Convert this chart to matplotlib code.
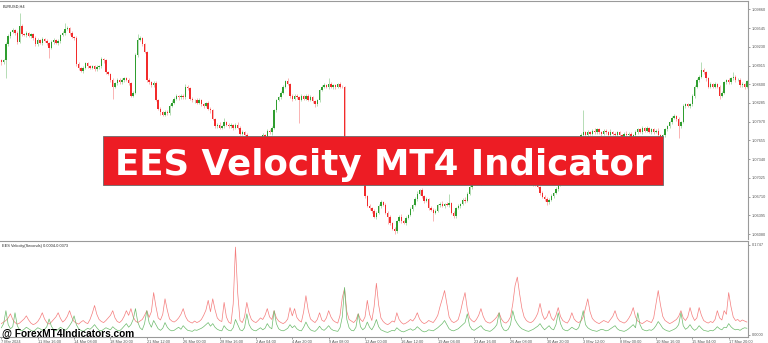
import numpy as np
import matplotlib.pyplot as plt
from matplotlib.patches import Rectangle

# ---- data (EURUSD H4, 7 Mar - 20 May 2024) ----
first_open = 1.0900
closes = [
    1.0897, 1.0900, 1.0927, 1.0941, 1.0948, 1.0951, 1.0946, 1.0931, 1.0958, 1.0944,
    1.0943, 1.0946, 1.0941, 1.0944, 1.0938, 1.0927, 1.0934, 1.0929, 1.0936, 1.0933,
    1.0929, 1.0921, 1.0931, 1.0934, 1.0929, 1.0933, 1.0943, 1.0946, 1.0953, 1.0955,
    1.0946, 1.0939, 1.0938, 1.0894, 1.0887, 1.0882, 1.0887, 1.0895, 1.0890, 1.0887,
    1.0890, 1.0885, 1.0889, 1.0890, 1.0902, 1.0900, 1.0880, 1.0877, 1.0867, 1.0855,
    1.0862, 1.0867, 1.0863, 1.0868, 1.0870, 1.0868, 1.0862, 1.0841, 1.0845, 1.0909,
    1.0934, 1.0938, 1.0927, 1.0914, 1.0867, 1.0863, 1.0858, 1.0862, 1.0833, 1.0819,
    1.0813, 1.0809, 1.0814, 1.0811, 1.0823, 1.0829, 1.0836, 1.0840, 1.0838, 1.0841,
    1.0838, 1.0856, 1.0853, 1.0836, 1.0833, 1.0834, 1.0829, 1.0833, 1.0826, 1.0823,
    1.0828, 1.0819, 1.0816, 1.0802, 1.0789, 1.0792, 1.0787, 1.0789, 1.0796, 1.0792,
    1.0789, 1.0791, 1.0787, 1.0792, 1.0787, 1.0777, 1.0780, 1.0775, 1.0765, 1.0755,
    1.0748, 1.0752, 1.0745, 1.0753, 1.0765, 1.0775, 1.0772, 1.0782, 1.0779, 1.0786,
    1.0816, 1.0833, 1.0838, 1.0845, 1.0856, 1.0865, 1.0860, 1.0840, 1.0836, 1.0841,
    1.0838, 1.0834, 1.0840, 1.0836, 1.0841, 1.0834, 1.0838, 1.0831, 1.0826, 1.0833,
    1.0850, 1.0856, 1.0858, 1.0855, 1.0860, 1.0856, 1.0858, 1.0855, 1.0860, 1.0856,
    1.0855, 1.0748, 1.0735, 1.0723, 1.0728, 1.0714, 1.0718, 1.0706, 1.0711, 1.0701,
    1.0672, 1.0655, 1.0652, 1.0647, 1.0637, 1.0644, 1.0655, 1.0662, 1.0657, 1.0644,
    1.0637, 1.0627, 1.0617, 1.0613, 1.0630, 1.0637, 1.0630, 1.0627, 1.0635, 1.0640,
    1.0650, 1.0657, 1.0667, 1.0676, 1.0682, 1.0672, 1.0664, 1.0667, 1.0652, 1.0649,
    1.0644, 1.0647, 1.0657, 1.0659, 1.0655, 1.0659, 1.0657, 1.0660, 1.0644, 1.0638,
    1.0652, 1.0655, 1.0659, 1.0666, 1.0664, 1.0676, 1.0687, 1.0701, 1.0704, 1.0698,
    1.0701, 1.0694, 1.0699, 1.0704, 1.0699, 1.0703, 1.0696, 1.0701, 1.0698, 1.0704,
    1.0701, 1.0696, 1.0699, 1.0703, 1.0698, 1.0701, 1.0694, 1.0698, 1.0701, 1.0696,
    1.0699, 1.0694, 1.0698, 1.0692, 1.0696, 1.0691, 1.0687, 1.0677, 1.0671, 1.0667,
    1.0662, 1.0666, 1.0672, 1.0677, 1.0684, 1.0691, 1.0706, 1.0714, 1.0723, 1.0731,
    1.0740, 1.0748, 1.0757, 1.0765, 1.0770, 1.0775, 1.0779, 1.0775, 1.0780, 1.0777,
    1.0782, 1.0779, 1.0784, 1.0780, 1.0777, 1.0782, 1.0779, 1.0775, 1.0780, 1.0777,
    1.0774, 1.0779, 1.0775, 1.0772, 1.0777, 1.0774, 1.0777, 1.0772, 1.0775, 1.0780,
    1.0784, 1.0780, 1.0786, 1.0782, 1.0786, 1.0780, 1.0784, 1.0780, 1.0782, 1.0775,
    1.0772, 1.0774, 1.0784, 1.0789, 1.0796, 1.0804, 1.0806, 1.0802, 1.0789, 1.0796,
    1.0823, 1.0826, 1.0823, 1.0826, 1.0840, 1.0856, 1.0867, 1.0873, 1.0884, 1.0880,
    1.0870, 1.0856, 1.0860, 1.0856, 1.0860, 1.0855, 1.0841, 1.0846, 1.0863, 1.0867,
    1.0863, 1.0870, 1.0872, 1.0867, 1.0868, 1.0858, 1.0860, 1.0856, 1.0865,
]
# upper / lower shadow lengths in pips
wick_up = [
    3, 2, 4, 3, 2, 3, 2, 3, 22, 3, 2, 4, 2, 3, 2, 3, 4, 2, 3, 2,
    3, 2, 4, 3, 2, 3, 2, 3, 10, 3, 2, 3, 2, 3, 4, 2, 3, 2, 3, 2,
    3, 2, 3, 2, 4, 3, 2, 3, 2, 3, 2, 3, 4, 2, 3, 2, 3, 2, 3, 4,
    10, 3, 2, 3, 2, 3, 2, 3, 4, 2, 3, 2, 3, 2, 3, 4, 2, 3, 2, 3,
    2, 4, 3, 2, 3, 2, 3, 4, 2, 3, 2, 3, 2, 3, 2, 3, 4, 2, 8, 3,
    2, 3, 2, 3, 4, 2, 3, 2, 3, 2, 3, 2, 4, 3, 2, 3, 2, 3, 2, 3,
    3, 2, 3, 4, 2, 3, 6, 2, 3, 2, 3, 2, 3, 2, 3, 2, 4, 3, 2, 3,
    2, 3, 4, 2, 10, 3, 2, 3, 2, 4, 3, 2, 3, 2, 3, 2, 3, 4, 2, 3,
    3, 2, 3, 2, 3, 2, 4, 3, 2, 3, 2, 3, 2, 3, 2, 3, 4, 2, 3, 2,
    3, 2, 3, 4, 2, 3, 2, 3, 2, 3, 2, 3, 2, 3, 4, 2, 3, 16, 2, 3,
    2, 3, 2, 3, 4, 2, 3, 2, 3, 2, 3, 2, 3, 4, 2, 3, 2, 3, 2, 3,
    3, 2, 3, 2, 3, 4, 2, 3, 2, 3, 2, 3, 4, 2, 3, 2, 3, 2, 3, 2,
    3, 2, 3, 2, 3, 2, 3, 4, 2, 3, 2, 3, 2, 3, 2, 3, 37, 2, 3, 2,
    3, 4, 2, 3, 2, 3, 2, 3, 4, 2, 3, 2, 3, 2, 3, 4, 2, 3, 2, 3,
    2, 3, 4, 2, 3, 2, 3, 2, 3, 4, 2, 3, 2, 3, 2, 3, 4, 2, 3, 2,
    3, 2, 3, 2, 3, 2, 3, 2, 13, 3, 2, 3, 4, 2, 3, 2, 3, 2, 3, 2,
    3, 2, 8, 3, 2, 3, 4, 2, 3,
]
wick_dn = [
    4, 3, 30, 2, 3, 2, 3, 4, 2, 3, 2, 3, 2, 4, 3, 2, 3, 2, 3, 2,
    3, 17, 2, 3, 2, 3, 4, 2, 3, 2, 3, 2, 3, 4, 3, 2, 3, 2, 3, 2,
    2, 3, 2, 3, 2, 4, 3, 2, 3, 19, 2, 3, 2, 3, 4, 2, 3, 2, 3, 2,
    3, 2, 3, 2, 4, 3, 2, 3, 2, 3, 4, 2, 3, 2, 3, 2, 3, 2, 4, 3,
    3, 2, 3, 2, 3, 4, 2, 3, 2, 3, 2, 3, 4, 2, 3, 2, 3, 2, 3, 2,
    3, 2, 4, 3, 2, 3, 2, 3, 2, 3, 4, 2, 3, 2, 3, 2, 3, 2, 3, 4,
    2, 3, 2, 3, 2, 3, 2, 3, 4, 2, 3, 40, 2, 3, 2, 3, 2, 3, 4, 2,
    3, 2, 3, 2, 3, 2, 4, 3, 2, 3, 2, 3, 2, 3, 2, 3, 4, 2, 3, 2,
    3, 2, 3, 4, 2, 3, 2, 3, 2, 3, 12, 3, 2, 5, 3, 2, 3, 2, 3, 2,
    2, 3, 2, 3, 2, 3, 4, 2, 3, 2, 14, 3, 2, 3, 2, 3, 2, 3, 2, 3,
    3, 2, 3, 2, 3, 2, 3, 4, 2, 3, 2, 3, 2, 3, 4, 2, 3, 2, 3, 2,
    2, 3, 2, 3, 4, 2, 3, 2, 3, 2, 3, 2, 3, 2, 4, 3, 2, 3, 2, 3,
    5, 3, 2, 3, 2, 3, 2, 3, 2, 3, 4, 2, 3, 2, 3, 2, 3, 2, 3, 2,
    2, 3, 2, 3, 4, 2, 3, 2, 3, 2, 3, 2, 3, 4, 2, 3, 2, 3, 2, 3,
    3, 2, 3, 2, 3, 2, 4, 3, 2, 3, 2, 3, 2, 3, 2, 3, 2, 3, 19, 3,
    2, 3, 2, 3, 2, 3, 2, 3, 2, 3, 4, 2, 3, 2, 3, 2, 5, 3, 2, 3,
    2, 3, 2, 3, 2, 3, 2, 4, 3,
]
# EES Velocity buffers, in thousandths
velocity_red = [
    22, 25, 28, 33, 41, 30, 24, 21, 23, 27, 31, 37, 29, 23, 20, 22, 26, 33, 43, 31,
    24, 21, 25, 30, 35, 43, 32, 25, 29, 36, 47, 34, 26, 23, 21, 25, 28, 24, 22, 30,
    42, 57, 40, 30, 26, 24, 28, 33, 38, 47, 33, 26, 24, 28, 36, 47, 38, 51, 35, 27,
    24, 27, 30, 38, 47, 34, 45, 82, 55, 33, 29, 40, 70, 48, 31, 27, 25, 28, 33, 40,
    51, 36, 28, 25, 23, 27, 24, 26, 30, 38, 48, 67, 45, 70, 49, 33, 28, 26, 63, 35,
    25, 22, 60, 170, 80, 28, 24, 35, 63, 42, 30, 26, 24, 28, 33, 30, 38, 51, 35, 30,
    47, 33, 27, 24, 22, 25, 31, 53, 37, 51, 34, 28, 25, 45, 76, 48, 31, 27, 24, 30,
    43, 29, 26, 33, 47, 35, 28, 25, 23, 38, 72, 90, 45, 30, 27, 24, 29, 41, 30, 26,
    35, 67, 40, 28, 55, 100, 58, 33, 26, 22, 20, 23, 27, 25, 43, 30, 24, 21, 23, 26,
    30, 27, 33, 43, 31, 25, 22, 24, 28, 26, 24, 30, 38, 55, 70, 86, 60, 35, 27, 24,
    26, 30, 45, 65, 82, 50, 33, 28, 25, 30, 38, 51, 36, 27, 24, 23, 26, 30, 35, 43,
    31, 25, 23, 27, 35, 60, 95, 112, 80, 52, 35, 28, 25, 24, 27, 33, 42, 61, 40, 30,
    35, 47, 33, 28, 38, 53, 36, 28, 25, 23, 30, 43, 31, 26, 24, 27, 35, 52, 70, 45,
    32, 27, 24, 22, 25, 28, 26, 24, 30, 36, 47, 33, 27, 25, 23, 26, 32, 40, 53, 35,
    27, 24, 22, 25, 28, 26, 24, 33, 60, 86, 58, 36, 28, 25, 22, 24, 27, 30, 36, 47,
    33, 28, 35, 53, 37, 28, 33, 53, 38, 28, 25, 23, 26, 24, 30, 47, 33, 29, 47, 40,
    82, 55, 35, 28, 30, 26, 29, 27, 25,
]
velocity_green = [
    14, 22, 47, 20, 12, 16, 43, 18, 10, 8, 11, 15, 12, 9, 7, 10, 14, 12, 9, 11,
    16, 31, 17, 10, 8, 11, 15, 12, 9, 12, 18, 25, 37, 20, 12, 9, 7, 10, 13, 11,
    15, 20, 14, 9, 8, 11, 14, 12, 10, 16, 12, 9, 8, 12, 17, 22, 15, 20, 30, 51,
    25, 14, 10, 22, 47, 24, 15, 28, 20, 12, 9, 13, 24, 15, 10, 8, 9, 12, 15, 11,
    18, 13, 9, 8, 7, 10, 9, 11, 13, 16, 20, 24, 17, 22, 15, 11, 9, 8, 18, 12,
    9, 8, 14, 30, 20, 10, 8, 14, 41, 20, 12, 9, 8, 11, 14, 10, 13, 22, 15, 12,
    47, 22, 12, 9, 8, 10, 13, 20, 14, 18, 12, 9, 8, 15, 25, 16, 10, 8, 7, 11,
    17, 11, 9, 13, 18, 12, 9, 8, 7, 14, 35, 92, 30, 14, 9, 8, 15, 41, 16, 10,
    14, 25, 15, 10, 18, 30, 16, 10, 8, 6, 5, 7, 9, 8, 14, 10, 7, 6, 8, 10,
    12, 9, 11, 16, 12, 8, 6, 7, 10, 9, 8, 11, 14, 18, 22, 28, 20, 12, 9, 8,
    10, 12, 16, 20, 24, 41, 18, 11, 9, 12, 15, 18, 12, 9, 8, 7, 10, 14, 20, 43,
    18, 10, 8, 11, 20, 47, 30, 22, 16, 12, 10, 8, 7, 9, 11, 14, 17, 22, 15, 10,
    14, 18, 12, 10, 20, 43, 22, 12, 9, 8, 11, 15, 12, 10, 14, 28, 47, 20, 14, 11,
    9, 8, 7, 9, 11, 10, 8, 9, 12, 15, 18, 12, 9, 8, 7, 9, 12, 16, 20, 14,
    43, 20, 11, 9, 8, 10, 9, 12, 18, 26, 20, 13, 10, 8, 7, 9, 11, 14, 20, 43,
    18, 11, 14, 20, 13, 9, 12, 18, 13, 9, 8, 7, 9, 8, 11, 16, 12, 10, 15, 14,
    22, 16, 12, 10, 11, 9, 12, 14, 13,
]
date_labels = ["7 Mar 2024", "11 Mar 16:00", "14 Mar 08:00", "18 Mar 20:00", "21 Mar 12:00",
               "26 Mar 00:00", "28 Mar 16:00", "2 Apr 04:00", "4 Apr 20:00", "9 Apr 08:00",
               "12 Apr 00:00", "16 Apr 12:00", "19 Apr 04:00", "23 Apr 16:00", "26 Apr 08:00",
               "30 Apr 20:00", "3 May 12:00", "8 May 00:00", "10 May 16:00", "15 May 04:00",
               "17 May 20:00"]
price_labels = ["1.09860", "1.09545", "1.09230", "1.08915", "1.08600", "1.08285", "1.07970",
                "1.07655", "1.07340", "1.07025", "1.06710", "1.06395", "1.06080"]
vel_labels = ["0.1747", "0.0000"]

closes = np.array(closes)
opens = np.concatenate([[first_open], closes[:-1]])
highs = np.maximum(opens, closes) + np.array(wick_up) / 10000
lows = np.minimum(opens, closes) - np.array(wick_dn) / 10000
red = np.array(velocity_red) / 1000
green = np.array(velocity_green) / 1000
x = np.arange(len(closes))

W, H = 768, 343
def box(x0, y0, x1, y1):
    # pixel box -> figure fraction
    return [x0 / W, 1 - y1 / H, (x1 - x0) / W, (y1 - y0) / H]

BULL, BEAR = '#2f9e2f', '#f22b2b'
GRID = '#9a9a9a'
MT4_FONT = dict(family='Liberation Sans', fontsize=2.8, color='#222222')

fig = plt.figure(figsize=(7.68, 3.43), dpi=100)
fig.patch.set_facecolor('white')

# ---- price panel ----
ax = fig.add_axes(box(0, 1, 748, 239))
up = closes >= opens
cols = np.where(up, BULL, BEAR)
ax.vlines(x, lows, highs, colors=cols, linewidth=0.45, alpha=0.55)
body = np.maximum(np.abs(closes - opens), 0.00006)
ax.bar(x, body, bottom=np.minimum(opens, closes), width=0.62, color=cols, linewidth=0)
ax.set_xlim(-0.6, 328.5)
ax.set_ylim(1.05996, 1.10001)
ax.yaxis.tick_right()
ax.set_yticks([float(p) for p in price_labels])
ax.set_yticklabels(price_labels, **MT4_FONT)
ax.tick_params(axis='y', length=1.5, width=0.4, pad=1, colors='#555555')
ax.set_xticks([])
for s in ['left', 'bottom']:
    ax.spines[s].set_visible(False)
for s in ['top', 'right']:
    ax.spines[s].set_color(GRID)
    ax.spines[s].set_linewidth(0.8)
ax.text(0.003, 0.985, 'EURUSD,H4', transform=ax.transAxes, va='top', ha='left', **MT4_FONT)

# ---- indicator panel ----
ax2 = fig.add_axes(box(0, 241, 748, 337))
ax2.plot(x, red, color='#f47c7c', linewidth=0.5)
ax2.plot(x, green, color='#6dbb6d', linewidth=0.5)
ax2.set_xlim(-0.6, 328.5)
ax2.set_ylim(-0.0039, 0.1818)
ax2.yaxis.tick_right()
ax2.set_yticks([float(v) for v in vel_labels])
ax2.set_yticklabels(vel_labels, **MT4_FONT)
ax2.tick_params(axis='y', length=1.5, width=0.4, pad=1, colors='#555555')
ax2.set_xticks(np.arange(len(date_labels)) * 16)
ax2.set_xticklabels(date_labels, ha='left', **MT4_FONT)
ax2.tick_params(axis='x', length=1.5, width=0.4, pad=0.8, colors='#555555')
ax2.spines['left'].set_visible(False)
for s in ['top', 'right', 'bottom']:
    ax2.spines[s].set_color(GRID)
    ax2.spines[s].set_linewidth(0.8)
ax2.text(0.003, 0.97, 'EES Velocity(Seconds) 0.0004-0.0373', transform=ax2.transAxes,
         va='top', ha='left', **MT4_FONT)

# ---- banner + watermark ----
fig.patches.append(Rectangle((103 / W, 1 - 185 / H), 560 / W, 49 / H, transform=fig.transFigure,
                             facecolor='#ed1c24', edgecolor='#6b6b6b', linewidth=0.6, zorder=10))
fig.text(383 / W, 1 - 174.5 / H, 'EES Velocity MT4 Indicator', ha='center', va='baseline',
         family='DejaVu Sans', weight='bold', fontsize=25.7, color='white', zorder=11)
fig.text(2 / W, 1 - 336.5 / H, '@ ForexMT4Indicators.com', ha='left', va='baseline',
         family='Liberation Sans', weight='bold', fontsize=7.3, color='black', zorder=11)

fig.savefig('out.png', dpi=100)
